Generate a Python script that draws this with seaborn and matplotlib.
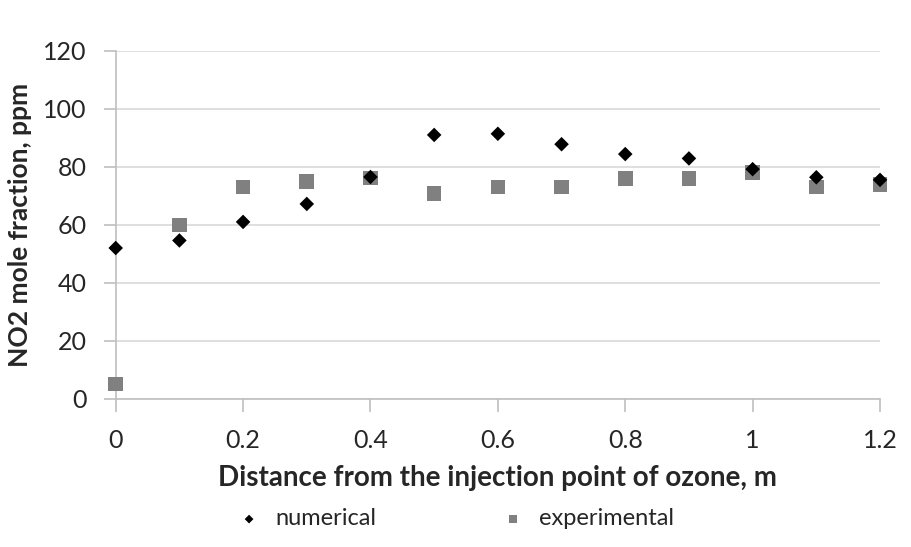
import numpy as np
import pandas as pd
import seaborn as sns
from matplotlib import pyplot as plt

# data
distance = [0, 0.1, 0.2, 0.3, 0.4, 0.5, 0.6, 0.7, 0.8, 0.9, 1.0, 1.1, 1.2]
numerical = [52.0, 54.6, 61.0, 67.2, 76.5, 91.0, 91.4, 87.8, 84.4, 82.9, 79.2, 76.4, 75.5]
experimental = [5.1, 60.0, 73.0, 74.9, 76.1, 70.9, 73.0, 73.0, 76.0, 76.0, 78.0, 73.0, 74.0]

x_ticks = [0, 0.2, 0.4, 0.6, 0.8, 1, 1.2]
x_tick_labels = ['0', '0.2', '0.4', '0.6', '0.8', '1', '1.2']
y_ticks = [0, 20, 40, 60, 80, 100, 120]

sns.set_style('white')
plt.rcParams['font.family'] = ['Lato', 'DejaVu Sans']

df = pd.DataFrame({
    'x': distance * 2,
    'y': numerical + experimental,
    'series': ['numerical'] * len(distance) + ['experimental'] * len(distance),
})

fig = plt.figure(figsize=(9.11, 5.47), dpi=100)
ax = fig.add_axes([0.127, 0.271, 0.839, 0.636])

# experimental first so the diamonds sit on top where they overlap
sns.scatterplot(data=df[df.series == 'experimental'], x='x', y='y', marker='s', s=110,
                color='#808080', edgecolor='none', ax=ax, label='experimental',
                zorder=3, clip_on=False)
sns.scatterplot(data=df[df.series == 'numerical'], x='x', y='y', marker='D', s=55,
                color='black', edgecolor='none', ax=ax, label='numerical',
                zorder=4, clip_on=False)

ax.set_xlim(0, 1.2)
ax.set_ylim(0, 120)
ax.set_xticks(x_ticks)
ax.set_xticklabels(x_tick_labels)
ax.set_yticks(y_ticks)
ax.grid(axis='y', color='#d9d9d9', linewidth=1.2)
ax.set_axisbelow(True)
for side in ['top', 'right']:
    ax.spines[side].set_visible(False)
for side in ['left', 'bottom']:
    ax.spines[side].set_color('#bfbfbf')
    ax.spines[side].set_linewidth(1.2)
ax.tick_params(axis='both', which='major', labelsize=18, length=9, width=1.2,
               color='#bfbfbf', direction='out')
ax.tick_params(axis='x', pad=13)
ax.tick_params(axis='y', pad=12)
ax.tick_params(axis='both', left=True, bottom=True)
ax.set_xlabel('Distance from the injection point of ozone, m', fontsize=20,
              fontweight='bold', labelpad=9)
ax.set_ylabel('NO2 mole fraction, ppm', fontsize=19, fontweight='bold', labelpad=8)

handles, labels = ax.get_legend_handles_labels()
order = [labels.index('numerical'), labels.index('experimental')]
ax.legend([handles[i] for i in order], [labels[i] for i in order],
          loc='center', bbox_to_anchor=(0.437, -0.345), ncol=2, frameon=False,
          fontsize=17, columnspacing=4.8, handletextpad=0.1, markerscale=0.6)

fig.savefig('out.png', dpi=100)
